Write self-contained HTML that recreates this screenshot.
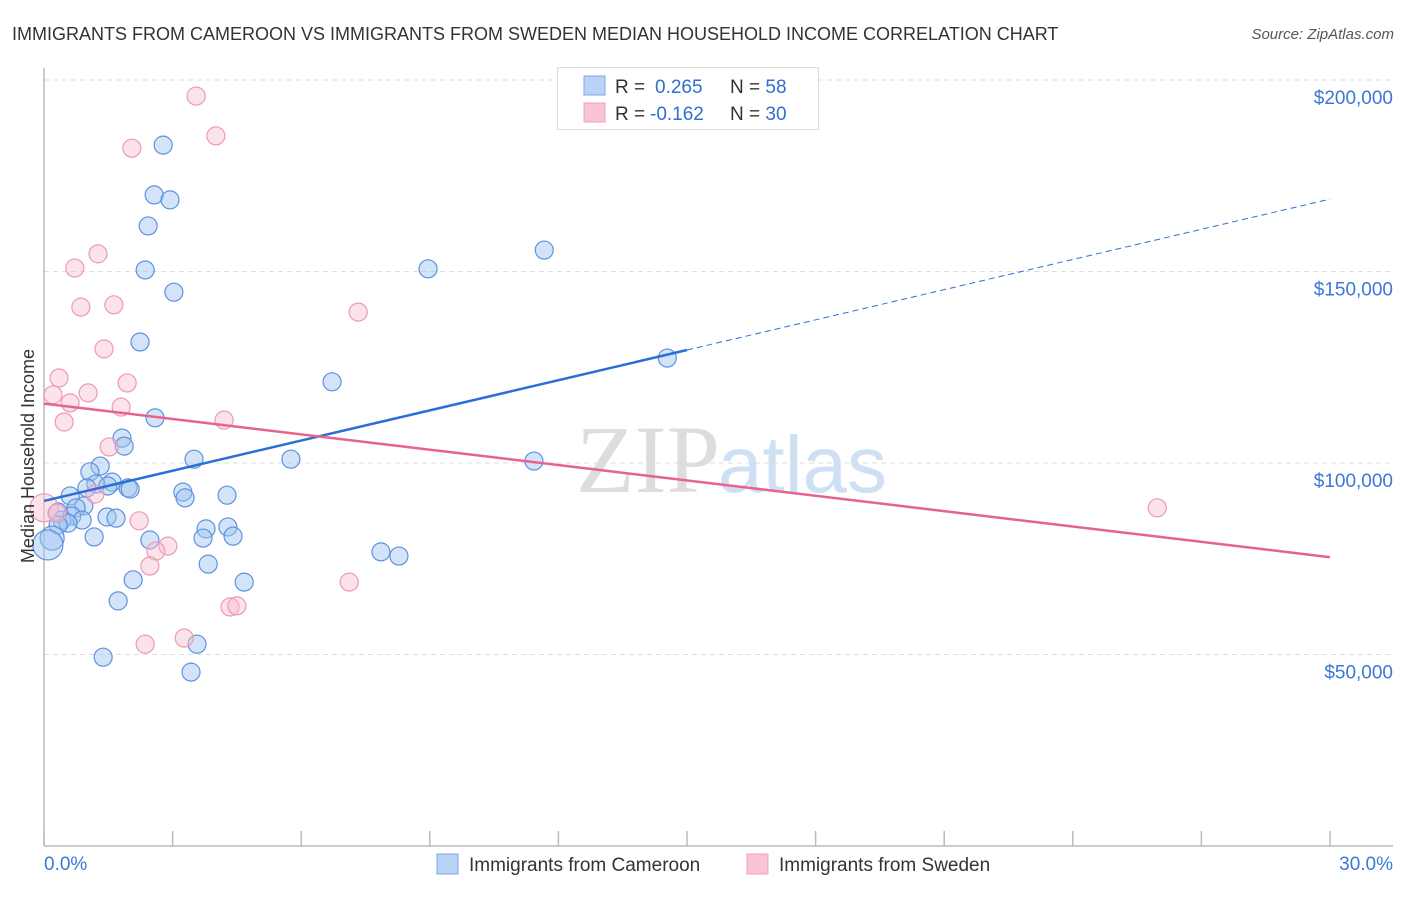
<!DOCTYPE html>
<html><head><meta charset="utf-8">
<style>
body{margin:0;background:#fff;font-family:"Liberation Sans",sans-serif;}
svg text{font-family:"Liberation Sans",sans-serif;}
</style></head>
<body>
<svg id="chart" width="1406" height="892" xmlns="http://www.w3.org/2000/svg">
<text x="12" y="40" font-size="18" fill="#333">IMMIGRANTS FROM CAMEROON VS IMMIGRANTS FROM SWEDEN MEDIAN HOUSEHOLD INCOME CORRELATION CHART</text>
<text x="1394" y="39" font-size="15" fill="#555" font-style="italic" text-anchor="end">Source: ZipAtlas.com</text>
<text x="720" y="492" font-size="96" fill="#ddd" text-anchor="end" font-family="Liberation Serif" style="font-family:'Liberation Serif',serif">ZIP</text>
<text x="718" y="492" font-size="80" fill="#cfe0f4">atlas</text>
<g id="grid"></g>
<g id="axes"></g>
<g id="marks"></g>
<text transform="translate(34,456) rotate(-90)" font-size="18" fill="#333" text-anchor="middle">Median Household Income</text>
<g>
<rect x="557.5" y="67.5" width="261" height="62" fill="#fff" stroke="#ddd"/>
<rect x="584" y="76" width="21" height="19" fill="#b8d3f5" stroke="#7aa7e6"/>
<rect x="584" y="103" width="21" height="19" fill="#f9c5d4" stroke="#eda0b8"/>
<text x="615" y="93" font-size="19" fill="#333">R = <tspan fill="#2e6fd1" x="655">0.265</tspan><tspan x="730" fill="#333">N = </tspan><tspan fill="#2e6fd1">58</tspan></text>
<text x="615" y="120" font-size="19" fill="#333">R = <tspan fill="#2e6fd1" x="650">-0.162</tspan><tspan x="730" fill="#333">N = </tspan><tspan fill="#2e6fd1">30</tspan></text>
</g>
<g>
<rect x="437" y="854" width="21" height="20" fill="#b8d3f5" stroke="#7aa7e6"/>
<text x="469" y="871" font-size="19" fill="#333">Immigrants from Cameroon</text>
<rect x="747" y="854" width="21" height="20" fill="#f9c5d4" stroke="#eda0b8"/>
<text x="779" y="871" font-size="19" fill="#333">Immigrants from Sweden</text>
</g>
</svg>
<script>
const yTicks=[50000,100000,150000,200000];
const yTickLabels=["$50,000","$100,000","$150,000","$200,000"];
const xTickLabels=["0.0%","30.0%"];
const blueX=[2.78,2.57,2.94,2.43,2.36,3.03,2.24,2.59,8.96,11.67,14.54,6.72,11.43,5.76,3.50,1.82,1.87,1.31,1.07,1.59,1.21,1.00,1.49,1.96,2.01,0.61,3.24,3.29,4.27,0.93,0.75,0.33,0.65,0.42,0.89,0.56,0.33,1.47,1.68,3.78,4.29,3.71,4.41,1.17,2.47,0.19,0.09,7.86,8.28,3.83,2.08,4.67,1.73,3.57,1.38,3.43];
const blueY=[183.0,170.0,168.7,161.9,150.4,144.6,131.6,111.8,150.7,155.6,127.4,121.2,100.5,101.0,101.0,106.5,104.4,99.2,97.7,95.0,94.5,93.5,94.0,93.5,93.2,91.4,92.4,90.9,91.6,88.8,88.3,87.2,86.2,85.1,85.1,84.3,83.8,85.9,85.6,82.8,83.3,80.4,80.9,80.7,79.9,80.4,78.6,76.8,75.7,73.6,69.5,68.9,64.0,52.7,49.3,45.4];
const blueR=[9,9,9,9,9,9,9,9,9,9,9,9,9,9,9,9,9,9,9,9,9,9,9,9,9,9,9,9,9,9,9,9,9,9,9,9,9,9,9,9,9,9,9,9,9,12,15,9,9,9,9,9,9,9,9,9];
const pinkX=[3.55,4.01,2.05,1.26,0.72,0.86,1.63,7.33,1.40,0.35,1.94,1.03,0.21,0.61,1.80,0.47,4.20,1.52,1.19,0.0,25.97,0.30,2.22,2.89,2.61,2.47,7.12,4.34,4.50,3.27,2.36];
const pinkY=[195.8,185.4,182.2,154.6,150.9,140.7,141.3,139.4,129.8,122.2,120.9,118.3,117.8,115.7,114.6,110.7,111.2,104.2,91.9,88.3,88.3,86.9,84.9,78.3,77.0,73.1,68.9,62.4,62.7,54.3,52.7];
const pinkR=[9,9,9,9,9,9,9,9,9,9,9,9,9,9,9,9,9,9,9,14,9,9,9,9,9,9,9,9,9,9,9];
const blueTrend=[90.1,168.9]; // values at x=0 and x=30
const blueSolidEnd=15;
const pinkTrend=[115.5,75.4];
const NS="http://www.w3.org/2000/svg";
const sx=v=>44+v/30*1286;
const sy=v=>846-v/50000*191.5;
const sk=v=>sy(v*1000);
function mk(tag,attrs,parent){const e=document.createElementNS(NS,tag);for(const k in attrs)e.setAttribute(k,attrs[k]);document.getElementById(parent).appendChild(e);return e;}
yTicks.forEach((t,i)=>{
 const l=mk('line',{x1:44,x2:1393,y1:sy(t),y2:sy(t),stroke:'#ddd','stroke-dasharray':'5,4'},'grid');
 
 
 const tx=mk('text',{x:1393,y:sy(t)+24,'font-size':19,fill:'#3a78d4','text-anchor':'end'},'axes');
 tx.textContent=yTickLabels[i];
 
 
});
const ax=mk('line',{x1:44,x2:44,y1:68,y2:846,stroke:'#bbb','stroke-width':1.5},'axes');


const bx=mk('line',{x1:44,x2:1393,y1:846,y2:846,stroke:'#bbb','stroke-width':1.5},'axes');


for(let i=0;i<=10;i++){
 const t=mk('line',{x1:sx(i*3),x2:sx(i*3),y1:831,y2:846,stroke:'#bbb','stroke-width':1.5},'axes');
 
 
}
[[0,'start',44],[30,'end',1393]].forEach((d,i)=>{
 const tx=mk('text',{x:d[2],y:870,'font-size':19,fill:'#3a78d4','text-anchor':d[1]},'axes');
 tx.textContent=xTickLabels[i];
 
 
});
blueX.forEach((x,i)=>{
 const c=mk('circle',{cx:sx(x),cy:sk(blueY[i]),r:blueR[i],fill:'rgba(160,195,240,0.45)',stroke:'#5b92e0','stroke-width':1.2},'marks');
 
 
});
pinkX.forEach((x,i)=>{
 const c=mk('circle',{cx:sx(x),cy:sk(pinkY[i]),r:pinkR[i],fill:'rgba(248,190,208,0.45)',stroke:'#ec9ab4','stroke-width':1.2},'marks');
 
 
});
const bv=x=>blueTrend[0]+(blueTrend[1]-blueTrend[0])*x/30;
const l1=mk('line',{x1:sx(0),y1:sk(bv(0)),x2:sx(blueSolidEnd),y2:sk(bv(blueSolidEnd)),stroke:'#2b6fd6','stroke-width':2.5},'marks');


const l2=mk('line',{x1:sx(blueSolidEnd),y1:sk(bv(blueSolidEnd)),x2:sx(30),y2:sk(bv(30)),stroke:'#2b6fd6','stroke-width':1,'stroke-dasharray':'6,4'},'marks');


const l3=mk('line',{x1:sx(0),y1:sk(pinkTrend[0]),x2:sx(30),y2:sk(pinkTrend[1]),stroke:'#e8628f','stroke-width':2.5},'marks');


</script>
</body></html>
